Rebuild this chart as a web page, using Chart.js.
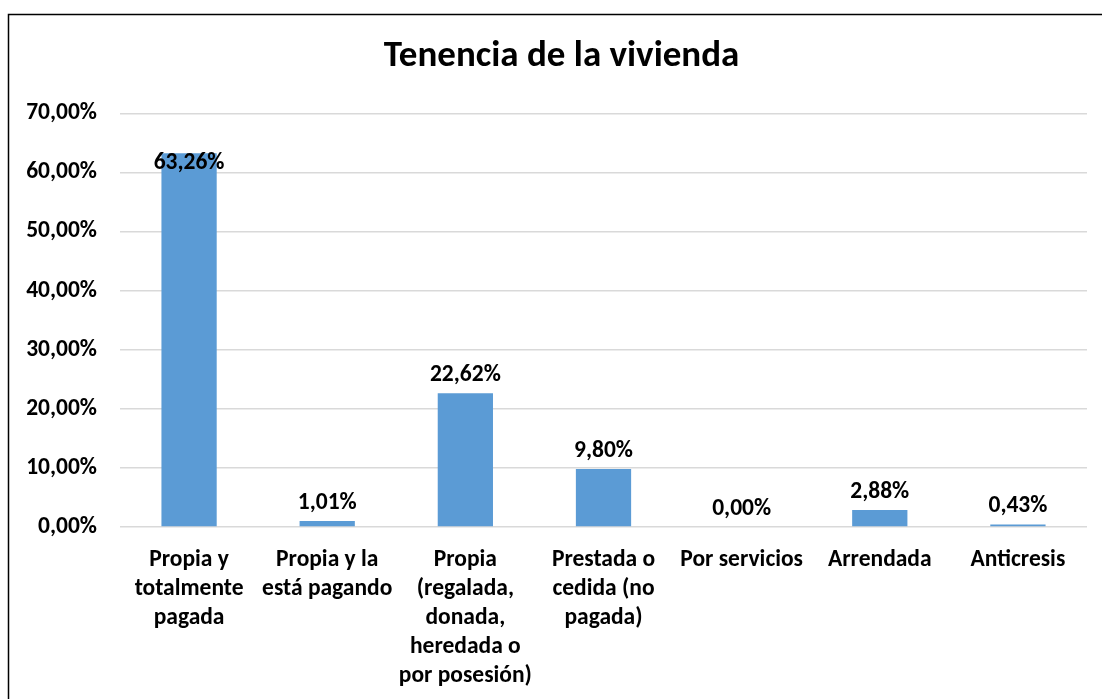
<!DOCTYPE html>
<html>
<head>
<meta charset="utf-8">
<title>Tenencia de la vivienda</title>
<script src="https://cdn.jsdelivr.net/npm/chart.js@4"></script>
<style>
  html, body { margin: 0; padding: 0; background: #ffffff; }
  #wrap { width: 1102px; height: 699px; position: relative; }
</style>
</head>
<body>
<div id="wrap"><canvas id="chart"></canvas></div>
<script>
// Categories (multi-line labels as drawn under each bar)
const categories = [
  ["Propia y", "totalmente", "pagada"],
  ["Propia y la", "está pagando"],
  ["Propia", "(regalada,", "donada,", "heredada o", "por posesión)"],
  ["Prestada o", "cedida (no", "pagada)"],
  "Por servicios",
  "Arrendada",
  "Anticresis"
];

// Share of households, in percent
const tenenciaValues = [63.26, 1.01, 22.62, 9.80, 0.00, 2.88, 0.43];

// Y axis ticks
const yTicks = [0, 10, 20, 30, 40, 50, 60, 70];

const FONT = "Carlito, Calibri, Lato, sans-serif";
const TEXT_SIZE = 23.5;
const fmtPct = v => v.toFixed(2).replace('.', ',') + '%';

// Outer frame of the chart object
const framePlugin = {
  id: 'frame',
  beforeDraw(chart) {
    const ctx = chart.ctx;
    ctx.save();
    ctx.fillStyle = '#ffffff';
    ctx.fillRect(0, 0, chart.width, chart.height);
    ctx.strokeStyle = '#000000';
    ctx.lineWidth = 1.5;
    ctx.beginPath();
    ctx.moveTo(8.5, chart.height);
    ctx.lineTo(8.5, 14.5);
    ctx.lineTo(chart.width, 14.5);
    ctx.stroke();
    ctx.restore();
  }
};

// Centre the title over the whole frame (which runs past the right edge)
const titleShiftPlugin = {
  id: 'titleShift',
  afterLayout(chart) {
    if (chart.titleBlock) {
      chart.titleBlock.left += 36;
    }
  }
};

// Value labels above each bar
const valueLabelPlugin = {
  id: 'valueLabels',
  afterDatasetsDraw(chart) {
    const ctx = chart.ctx;
    const meta = chart.getDatasetMeta(0);
    const data = chart.data.datasets[0].data;
    const maxVal = Math.max(...data);
    ctx.save();
    ctx.font = "bold " + TEXT_SIZE + "px " + FONT;
    ctx.fillStyle = '#000000';
    ctx.textAlign = 'center';
    ctx.textBaseline = 'middle';
    meta.data.forEach((bar, i) => {
      const v = data[i];
      const y = (v === maxVal) ? bar.y + 10 : bar.y - 18;
      ctx.fillText(fmtPct(v), bar.x, y);
    });
    ctx.restore();
  }
};

new Chart(document.getElementById('chart'), {
  type: 'bar',
  data: {
    labels: categories,
    datasets: [{
      data: tenenciaValues,
      backgroundColor: '#5B9BD5',
      borderWidth: 0,
      barPercentage: 0.4,
      categoryPercentage: 1.0
    }]
  },
  options: {
    responsive: true,
    maintainAspectRatio: false,
    animation: false,
    layout: { padding: { left: 0, right: 15, top: 0, bottom: 0 } },
    plugins: {
      legend: { display: false },
      tooltip: { enabled: false },
      title: {
        display: true,
        text: 'Tenencia de la vivienda',
        color: '#000000',
        font: { family: FONT, size: 37, weight: 'bold', lineHeight: 1.2 },
        padding: { top: 35, bottom: 34 }
      }
    },
    scales: {
      x: {
        grid: { display: false, drawTicks: false },
        border: { display: false },
        ticks: {
          color: '#000000',
          font: { family: FONT, size: TEXT_SIZE, weight: 'bold', lineHeight: '29px' },
          padding: 19,
          maxRotation: 0,
          autoSkip: false
        },
        afterFit(scale) { scale.height = 172; }
      },
      y: {
        min: 0,
        max: 70,
        afterBuildTicks(scale) { scale.ticks = yTicks.map(v => ({ value: v })); },
        grid: { color: '#d9d9d9', lineWidth: 1.5, drawTicks: false },
        border: { display: false },
        ticks: {
          color: '#000000',
          font: { family: FONT, size: TEXT_SIZE, weight: 'bold' },
          padding: 23,
          callback: v => fmtPct(v)
        },
        afterFit(scale) { scale.width = 120; }
      }
    }
  },
  plugins: [framePlugin, titleShiftPlugin, valueLabelPlugin]
});
</script>
</body>
</html>
